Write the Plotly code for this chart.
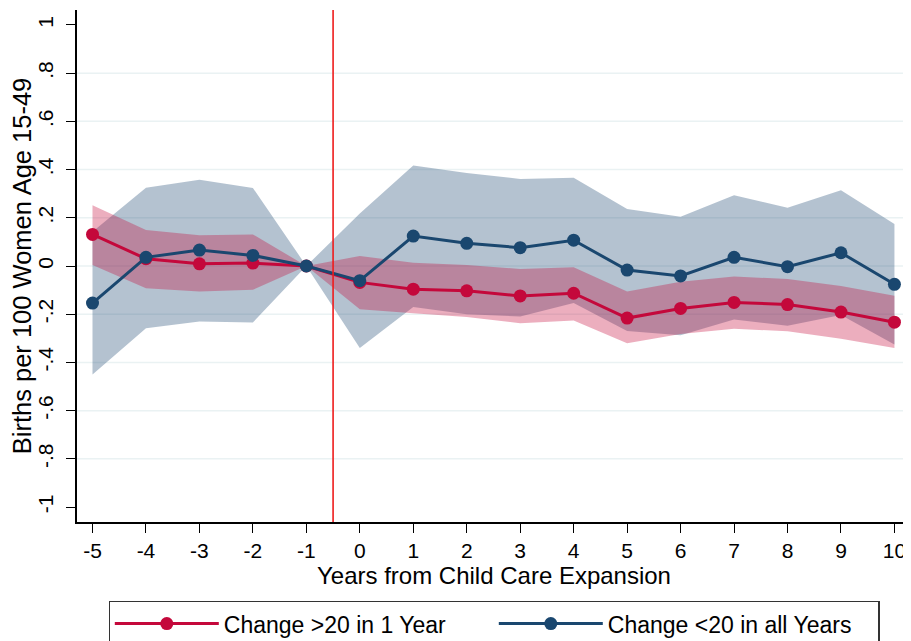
import plotly.graph_objects as go

years = [-5, -4, -3, -2, -1, 0, 1, 2, 3, 4, 5, 6, 7, 8, 9, 10]
x_labels = ["-5", "-4", "-3", "-2", "-1", "0", "1", "2", "3", "4", "5", "6", "7", "8", "9", "10"]

# Change >20 in 1 Year (red)
red_est = [0.131, 0.030, 0.009, 0.012, 0.0, -0.068, -0.096, -0.103, -0.124, -0.113,
           -0.216, -0.176, -0.151, -0.160, -0.191, -0.233]
red_hi = [0.252, 0.149, 0.128, 0.131, 0.0, 0.041, 0.014, 0.004, -0.012, -0.005,
          -0.106, -0.065, -0.044, -0.054, -0.083, -0.123]
red_lo = [0.004, -0.092, -0.106, -0.099, 0.0, -0.179, -0.196, -0.212, -0.237, -0.226,
          -0.320, -0.282, -0.260, -0.271, -0.302, -0.340]

# Change <20 in all Years (blue)
blue_est = [-0.154, 0.036, 0.066, 0.044, 0.0, -0.061, 0.124, 0.094, 0.076, 0.107,
            -0.017, -0.041, 0.036, -0.003, 0.055, -0.076]
blue_hi = [0.142, 0.325, 0.358, 0.324, 0.0, 0.218, 0.417, 0.386, 0.361, 0.366,
           0.236, 0.204, 0.293, 0.242, 0.314, 0.174]
blue_lo = [-0.450, -0.258, -0.230, -0.234, 0.0, -0.340, -0.170, -0.200, -0.209, -0.153,
           -0.270, -0.287, -0.222, -0.248, -0.203, -0.326]

y_ticks = [-1, -0.8, -0.6, -0.4, -0.2, 0, 0.2, 0.4, 0.6, 0.8, 1]
y_labels = ["-1", "-.8", "-.6", "-.4", "-.2", "0", ".2", ".4", ".6", ".8", "1"]
grid_vals = [-0.8, -0.6, -0.4, -0.2, 0, 0.2, 0.4, 0.6, 0.8]
event_line = -0.5

RED = "#C4083B"
BLUE = "#1A476F"
RED_FILL = "rgba(196,8,59,0.33)"
BLUE_FILL = "rgba(26,71,111,0.33)"
FONT = "Arial, Liberation Sans, sans-serif"

fig = go.Figure()

# Blue CI band
fig.add_trace(go.Scatter(x=years, y=blue_lo, mode="lines", line=dict(width=0),
                         showlegend=False, hoverinfo="skip"))
fig.add_trace(go.Scatter(x=years, y=blue_hi, mode="lines", line=dict(width=0),
                         fill="tonexty", fillcolor=BLUE_FILL, showlegend=False,
                         hoverinfo="skip"))
# Red CI band
fig.add_trace(go.Scatter(x=years, y=red_lo, mode="lines", line=dict(width=0),
                         showlegend=False, hoverinfo="skip"))
fig.add_trace(go.Scatter(x=years, y=red_hi, mode="lines", line=dict(width=0),
                         fill="tonexty", fillcolor=RED_FILL, showlegend=False,
                         hoverinfo="skip"))

fig.add_trace(go.Scatter(x=years, y=red_est, mode="lines+markers",
                         name="Change >20 in 1 Year",
                         line=dict(color=RED, width=3),
                         marker=dict(color=RED, size=13)))
fig.add_trace(go.Scatter(x=years, y=blue_est, mode="lines+markers",
                         name="Change <20 in all Years",
                         line=dict(color=BLUE, width=3),
                         marker=dict(color=BLUE, size=13)))

shapes = []
for g in grid_vals:
    shapes.append(dict(type="line", xref="paper", x0=0, x1=1, yref="y", y0=g, y1=g,
                       line=dict(color="#EAF2F3", width=1.5), layer="below"))
shapes.append(dict(type="line", xref="x", x0=event_line, x1=event_line,
                   yref="paper", y0=0, y1=1,
                   line=dict(color="#EE1C1C", width=1.6), layer="above"))

# page body has an 8px margin: figure is sized/offset to compensate
fig.update_layout(
    width=903, height=633,
    margin=dict(l=69, r=0, t=2, b=119, autoexpand=False),
    paper_bgcolor="white", plot_bgcolor="white",
    font=dict(family=FONT, color="black"),
    shapes=shapes,
    showlegend=True,
    legend=dict(orientation="h", xanchor="center", x=0.5, yanchor="top", y=-0.154,
                traceorder="normal",
                bordercolor="#333333", borderwidth=1.3, bgcolor="white",
                font=dict(size=23, family=FONT), entrywidth=265,
                entrywidthmode="pixels", itemwidth=104),
    xaxis=dict(range=[-5.29, 10.31], tickvals=years, ticktext=x_labels,
               ticks="outside", ticklen=9,
               tickwidth=1.3, tickcolor="black", showline=True, linecolor="black",
               linewidth=1.5, showgrid=False, zeroline=False,
               tickfont=dict(size=21), automargin=False,
               title=dict(text="Years from Child Care Expansion",
                          font=dict(size=24), standoff=1)),
    yaxis=dict(range=[-1.062, 1.062], tickvals=y_ticks, ticktext=y_labels,
               tickangle=-90, ticks="outside", ticklen=9, tickwidth=1.3,
               tickcolor="black", showline=True, linecolor="black", linewidth=1.5,
               showgrid=False, zeroline=False, tickfont=dict(size=21),
               ticklabelstandoff=5, automargin=False,
               title=dict(text="Births per 100 Women Age 15-49",
                          font=dict(size=25.5), standoff=2)),
)

fig.write_html("out.html")
